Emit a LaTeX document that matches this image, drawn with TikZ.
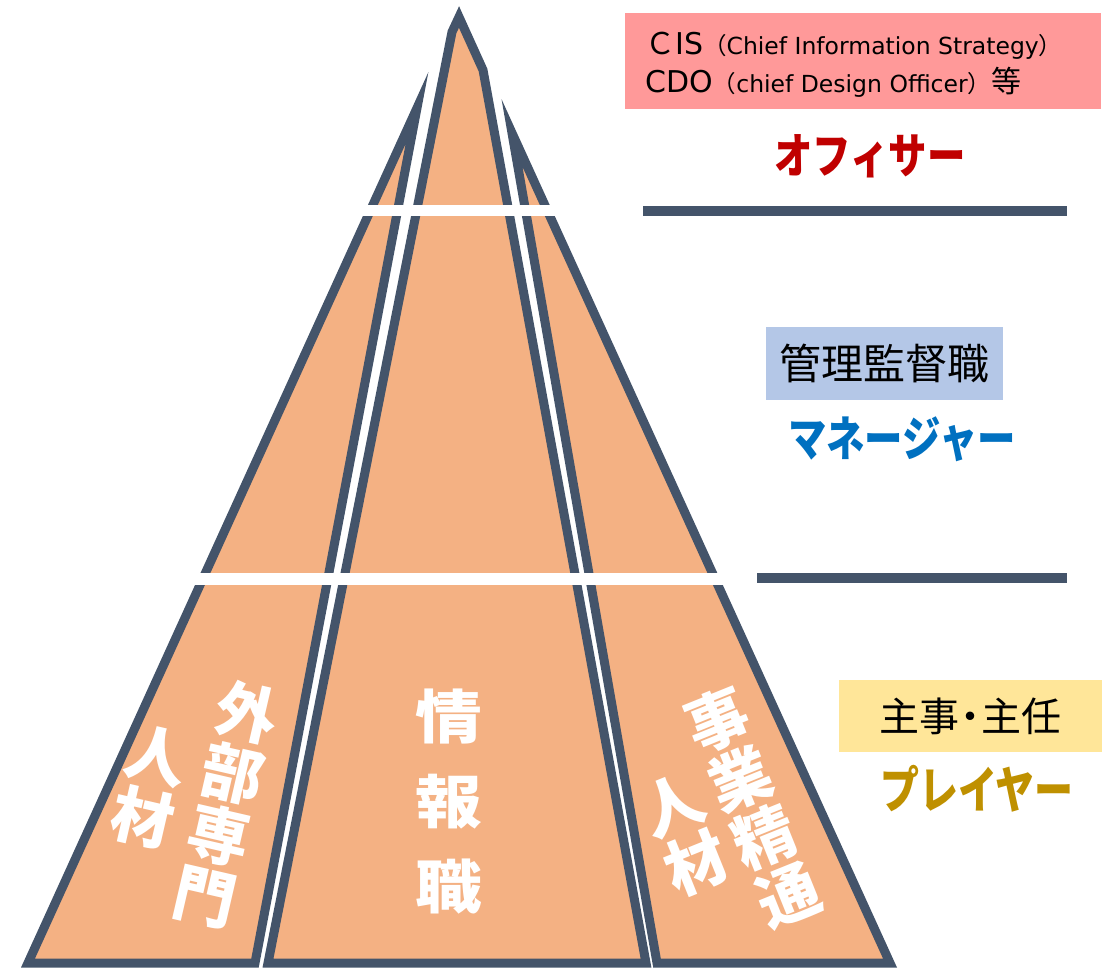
\documentclass[tikz,border=0pt]{standalone}
\usepackage{fontspec}
\setmainfont{DejaVu Sans}
\newfontfamily\jp{Noto Sans CJK JP}
\usepackage{graphicx}
\definecolor{pyr}{HTML}{F4B183}
\definecolor{edge}{HTML}{44546A}
\definecolor{pinkbox}{HTML}{FF9999}
\definecolor{bluebox}{HTML}{B4C7E7}
\definecolor{yellowbox}{HTML}{FFE699}
\definecolor{offred}{HTML}{C00000}
\definecolor{mgrblue}{HTML}{0070C0}
\definecolor{plgold}{HTML}{BF9000}
\begin{document}
\begin{tikzpicture}[x=1pt,y=-1pt,
  piece/.style={fill=pyr, draw=edge, line width=9pt, line join=miter},
  band/.style={fill=white},
  rule/.style={draw=edge, line width=10pt},
  role/.style={inner sep=0pt, font=\jp\bfseries\fontsize{48}{56}\selectfont},
  tagbox/.style={inner sep=0pt, font=\jp\fontsize{42}{50}\selectfont, text=black},
  vtext/.style={inner sep=0pt, align=center, text=white, transform shape, font=\jp\bfseries\fontsize{62}{63}\selectfont},
  vmid/.style={inner sep=0pt, text=white, transform shape, xscale=1.15, font=\jp\bfseries\fontsize{58}{60}\selectfont},
  line1/.style={inner sep=0pt, anchor=base west}]
\useasboundingbox (0,0) rectangle (1109,968);

% pyramid pieces
\coordinate (LB) at (28,963);
\coordinate (LR) at (255,963);
\coordinate (LT) at (417,108);
\coordinate (MB) at (268,963);
\coordinate (MK) at (452,32);
\coordinate (AP) at (459,17);
\coordinate (MQ) at (483,70);
\coordinate (MR) at (646,963);
\coordinate (RB) at (657,963);
\coordinate (RR) at (890,963);
\coordinate (RT) at (512,133);
\draw[piece] (LB) -- (LR) -- (LT) -- cycle;
\draw[piece] (MB) -- (MK) -- (AP) -- (MQ) -- (MR) -- cycle;
\draw[piece] (RB) -- (RR) -- (RT) -- cycle;

% white cuts
\fill[band] (350,205) rectangle (575,216);
\fill[band] (180,573) rectangle (745,585);

% right-hand rules
\coordinate (R1a) at (643,211);
\coordinate (R1b) at (1067,211);
\coordinate (R2a) at (757,578);
\coordinate (R2b) at (1067,578);
\draw[rule] (R1a) -- (R1b);
\draw[rule] (R2a) -- (R2b);

% officer box
\node[fill=pinkbox, minimum width=476pt, minimum height=96pt, inner sep=0pt] (cisbox) at (863,61) {};
\node[line1] (cis) at (645,55) {{\jp\fontsize{30}{36}\selectfont Ｃ}{\fontsize{30}{36}\selectfont IS}{\jp\fontsize{23.5}{28}\selectfont （}{\fontsize{23.5}{28}\selectfont Chief Information Strategy}{\jp\fontsize{23.5}{28}\selectfont ）}};
\node[line1] (cdo) at (645,93) {{\fontsize{30}{36}\selectfont CDO}{\jp\fontsize{23.5}{28}\selectfont （}{\fontsize{23.5}{28}\selectfont chief Design Officer}{\jp\fontsize{23.5}{28}\selectfont ）}{\jp\fontsize{30}{36}\selectfont 等}};
\node[role, text=offred] (officer) at (870,156) {\scalebox{0.8}[1]{オフィサー}};

% manager
\node[tagbox, fill=bluebox, minimum width=237pt, minimum height=73pt] (kanri) at (884.5,363.5) {管理監督職};
\node[role, text=mgrblue] (manager) at (902,439) {\scalebox{0.8}[1]{マネージャー}};

% player
\node[tagbox, fill=yellowbox, minimum width=263pt, minimum height=72pt, font=\jp\fontsize{40}{48}\selectfont] (shuji) at (970.5,716) {主事\kern-9pt・\kern-9pt 主任};
\node[role, text=plgold, font=\jp\bfseries\fontsize{50}{58}\selectfont] (player) at (977,789) {\scalebox{0.78}[1]{プレイヤー}};

% vertical texts
\begin{scope}[shift={(226,804.5)}, rotate=-13]
  \node[vtext] (gaibu) at (0,0) {外\\部\\専\\門};
  \node[vtext] (jinzaiL) at (-78,0) {人\\材};
\end{scope}
\node[vmid] (jo) at (449,717) {情};
\node[vmid] (ho) at (449,802) {報};
\node[vmid] (shoku) at (449,887) {職};
\begin{scope}[shift={(752.5,807.5)}, rotate=22]
  \node[vtext] (jigyo) at (0,0) {事\\業\\精\\通};
  \node[vtext] (jinzaiR) at (-73,0) {人\\材};
\end{scope}
\end{tikzpicture}
\end{document}
